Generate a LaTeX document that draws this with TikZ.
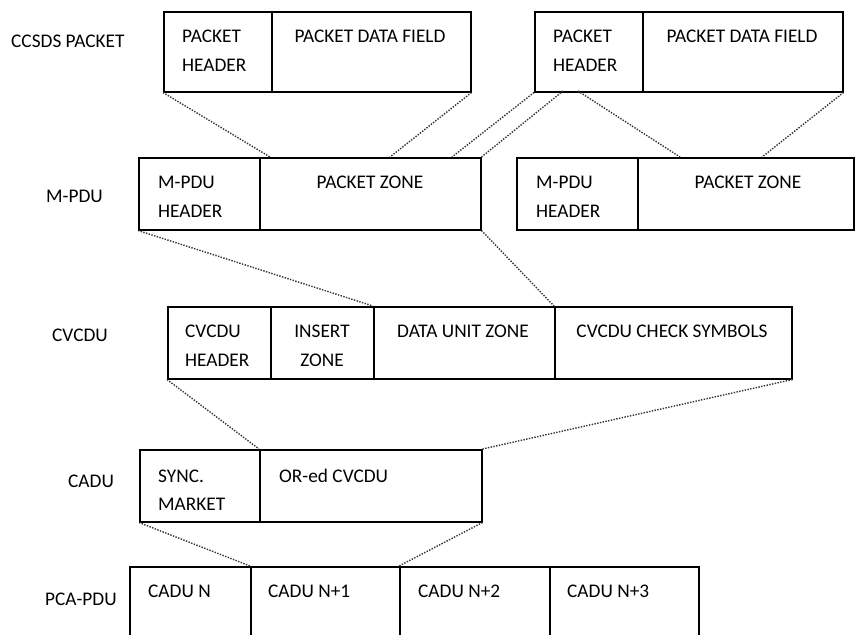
\documentclass[tikz,border=0pt]{standalone}
\usepackage{fontspec}
\setmainfont{Carlito}
\begin{document}
\begin{tikzpicture}[x=1pt,y=-1pt,
  cell/.style={draw=black, line width=1.5pt, rectangle, inner sep=0pt, anchor=north west},
  txt/.style={inner sep=0pt, font=\fontsize{19.3}{28.5}\selectfont, text=black, anchor=base west},
  ctxt/.style={txt, anchor=base},
  conn/.style={line width=1.4pt, dash pattern=on 1.4pt off 1.4pt, black!80}]
\clip (0,0) rectangle (855,635);
\fill[white] (0,0) rectangle (855,635);

% CCSDS packets
\node[cell, minimum width=108pt, minimum height=80pt] (p1h) at (163,11) {};
\node[cell, minimum width=199pt, minimum height=80pt] (p1d) at (271,11) {};
\node[cell, minimum width=108pt, minimum height=80pt] (p2h) at (534,11) {};
\node[cell, minimum width=200pt, minimum height=80pt] (p2d) at (642,11) {};
% M-PDU
\node[cell, minimum width=121pt, minimum height=72pt] (m1h) at (138,157) {};
\node[cell, minimum width=221pt, minimum height=72pt] (m1z) at (259,157) {};
\node[cell, minimum width=121pt, minimum height=72pt] (m2h) at (516,157) {};
\node[cell, minimum width=216pt, minimum height=72pt] (m2z) at (637,157) {};
% CVCDU
\node[cell, minimum width=103pt, minimum height=72pt] (c1) at (167,306) {};
\node[cell, minimum width=103pt, minimum height=72pt] (c2) at (270,306) {};
\node[cell, minimum width=181pt, minimum height=72pt] (c3) at (373,306) {};
\node[cell, minimum width=237pt, minimum height=72pt] (c4) at (554,306) {};
% CADU
\node[cell, minimum width=120pt, minimum height=72pt] (a1) at (139,449) {};
\node[cell, minimum width=222pt, minimum height=72pt] (a2) at (259,449) {};
% PCA-PDU
\node[cell, minimum width=121pt, minimum height=90pt] (q1) at (129,566) {};
\node[cell, minimum width=149pt, minimum height=90pt] (q2) at (250,566) {};
\node[cell, minimum width=150pt, minimum height=90pt] (q3) at (399,566) {};
\node[cell, minimum width=149pt, minimum height=90pt] (q4) at (549,566) {};

% free ends of connectors
\coordinate (k1) at (270,157);
\coordinate (k2) at (390,157);
\coordinate (k3) at (452,157);
\coordinate (k4) at (563,91);
\coordinate (k5) at (578,91);
\coordinate (k6) at (680,157);
\coordinate (k7) at (762,157);

\draw[conn] (p1h.south west) -- (k1);
\draw[conn] (p1d.south east) -- (k2);
\draw[conn] (p2h.south west) -- (k3);
\draw[conn] (k4) -- (m1z.north east);
\draw[conn] (k5) -- (k6);
\draw[conn] (p2d.south east) -- (k7);
\draw[conn] (m1h.south west) -- (c3.north west);
\draw[conn] (m1z.south east) -- (c4.north west);
\draw[conn] (c1.south west) -- (a2.north west);
\draw[conn] (c4.south east) -- (a2.north east);
\draw[conn] (a1.south west) -- (q2.north west);
\draw[conn] (a2.south east) -- (q3.north west);

% row labels
\node[txt] (l1) at (11,47.5) {CCSDS PACKET};
\node[txt] (l2) at (46,202) {M-PDU};
\node[txt] (l3) at (52,341) {CVCDU};
\node[txt] (l4) at (68,487) {CADU};
\node[txt] (l5) at (45,605) {PCA-PDU};

% texts in cells
\node[txt] (t1a) at (182,42.5) {PACKET};
\node[txt] (t1b) at (182,71) {HEADER};
\node[ctxt] (t2) at (370,42.5) {PACKET DATA FIELD};
\node[txt] (t3a) at (553,42.5) {PACKET};
\node[txt] (t3b) at (553,71) {HEADER};
\node[ctxt] (t4) at (742,42.5) {PACKET DATA FIELD};

\node[txt] (t5a) at (158,188) {M-PDU};
\node[txt] (t5b) at (158,217) {HEADER};
\node[ctxt] (t6) at (370,188) {PACKET ZONE};
\node[txt] (t7a) at (536,188) {M-PDU};
\node[txt] (t7b) at (536,217) {HEADER};
\node[ctxt] (t8) at (748,188) {PACKET ZONE};

\node[txt] (t9a) at (185,337) {CVCDU};
\node[txt] (t9b) at (185,366) {HEADER};
\node[ctxt] (t10a) at (322,337) {INSERT};
\node[ctxt] (t10b) at (322,366) {ZONE};
\node[ctxt] (t11) at (463,337) {DATA UNIT ZONE};
\node[ctxt] (t12) at (672,337) {CVCDU CHECK SYMBOLS};

\node[txt] (t13a) at (158,482) {SYNC.};
\node[txt] (t13b) at (158,510) {MARKET};
\node[txt] (t14) at (279,482) {OR-ed CVCDU};

\node[txt] (t15) at (148,597) {CADU N};
\node[txt] (t16) at (268,597) {CADU N+1};
\node[txt] (t17) at (418,597) {CADU N+2};
\node[txt] (t18) at (567,597) {CADU N+3};
\end{tikzpicture}
\end{document}
